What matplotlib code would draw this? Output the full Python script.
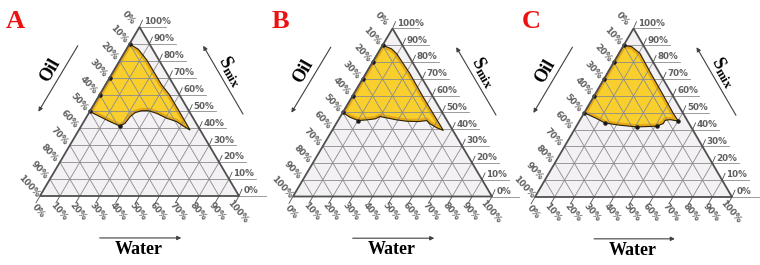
import numpy as np
import matplotlib
matplotlib.use("Agg")
import matplotlib.pyplot as plt
from matplotlib.patches import Polygon

plt.rcParams['mathtext.fontset'] = 'custom'
plt.rcParams['mathtext.rm'] = 'Liberation Serif:bold'
plt.rcParams['mathtext.it'] = 'Liberation Serif:bold'

# ---------------- data ----------------
panel_labels = ["A", "B", "C"]
ticks = list(range(0, 101, 10))
tick_labels = [f"{t}%" for t in ticks]
axis_names = {"oil": "Oil", "smix": "S$_{\\mathrm{mix}}$", "water": "Water"}

# boundary of the shaded (nanoemulsion) region, in % water / % Smix
A_water = [0, 0, 0, 0, 0, 6.8, 13.2, 19.5, 21.2, 21.8, 23.1, 25.9, 29.2, 34.2,
           40.7, 46.7, 51.3, 55.9, 45, 35, 28.3, 13.4, 6]
A_smix = [90, 80, 70, 60, 50, 46.9, 44, 41.4, 43, 46.9, 49.3, 50.5, 50.5, 48.9,
          46, 44, 41.4, 39, 50, 60, 65.7, 80.5, 86.8]
A_dots = [0, 2, 3, 4, 7]

B_water = [0, 0, 0, 0, 0, 5.0, 10.2, 14.2, 18.1, 19.9, 23.7, 29.3, 34.7, 40.7,
           44.6, 47.2, 51.8, 55.9, 45.9, 35.9, 22.3, 9.7, 5.6]
B_smix = [90, 80, 70, 60, 50, 47.2, 45.2, 45.6, 46.2, 47.6, 46.8, 45.6, 44.8,
          44.6, 45.2, 43.3, 40.9, 39.3, 49.2, 59.1, 73, 84.9, 87.9]
B_dots = [0, 1, 2, 3, 4, 6]

C_water = [0, 0, 0, 0, 0, 8.1, 13.6, 21.8, 30.8, 40.8, 43.3, 43.3, 45.6, 50.2,
           45.5, 34.9, 21.2, 10.7, 4.5]
C_smix = [90, 80, 70, 60, 50, 46.5, 43.9, 42.6, 41.6, 42, 43.6, 45.5, 45.9, 45.1,
          49.5, 60.4, 74.3, 85.2, 89.2]
C_dots = [0, 1, 2, 3, 4, 6, 8, 9, 13]

regions = [(A_water, A_smix, A_dots), (B_water, B_smix, B_dots), (C_water, C_smix, C_dots)]

# ---------------- layout ----------------
W_PX, H_PX = 760, 265
# triangle geometry of each panel in figure pixels: left x, base y (from top), base width, height
tri_px = [(40, 196, 199, 169), (293, 196.5, 199, 168), (535, 197, 197, 168.5)]
letter_px = [(15.5, 21), (280, 21.5), (531, 21)]
SQ = np.sqrt(3) / 2
XL = (-0.32, 1.32)
YL = (-0.42, 1.0)


def to_xy(water, smix):
    w = np.asarray(water, float) / 100.0
    s = np.asarray(smix, float) / 100.0
    return w + s / 2, s * SQ


fig = plt.figure(figsize=(W_PX / 100, H_PX / 100), dpi=100)
fig.patch.set_facecolor("white")

grid_c = "#8c8a8c"
edge_c = "#505050"
lab_c = "#606060"

for i, (x0, yb, bw, th) in enumerate(tri_px):
    sx = bw
    sy = th / SQ
    left = x0 + XL[0] * sx
    bottom = (H_PX - yb) + YL[0] * sy
    ax = fig.add_axes([left / W_PX, bottom / H_PX,
                       (XL[1] - XL[0]) * sx / W_PX, (YL[1] - YL[0]) * sy / H_PX])
    ax.set_xlim(*XL)
    ax.set_ylim(*YL)
    ax.axis("off")
    ax.patch.set_alpha(0)

    # background of triangle
    tri = Polygon([(0, 0), (1, 0), (0.5, SQ)], closed=True, facecolor="#f3f1f3",
                  edgecolor="none", zorder=0)
    ax.add_patch(tri)

    # shaded region
    wv, sv, dots = regions[i]
    px, py = to_xy(wv, sv)
    pts = np.column_stack([px, py])
    poly = Polygon(pts, closed=True, facecolor="#f8cf2c", edgecolor="none", zorder=1)
    ax.add_patch(poly)
    inner = Polygon(pts, closed=True, facecolor="none", edgecolor="#e6a816",
                    lw=4, zorder=1.1)
    ax.add_patch(inner)
    inner.set_clip_path(poly)

    # grid lines
    for k in range(1, 10):
        f = k / 10
        # constant Smix (horizontal)
        ax.plot([f / 2, 1 - f / 2], [f * SQ, f * SQ], color=grid_c, lw=0.6, zorder=2)
        # constant Oil (parallel to right edge)
        ax.plot([(1 - f) / 2, 1 - f], [(1 - f) * SQ, 0], color=grid_c, lw=0.6, zorder=2)
        # constant Water (parallel to left edge)
        ax.plot([f, f + (1 - f) / 2], [0, (1 - f) * SQ], color=grid_c, lw=0.6, zorder=2)

    # region outline + dots
    ax.add_patch(Polygon(pts, closed=True, facecolor="none", edgecolor="#2a2205",
                         lw=0.8, zorder=3))
    ax.plot(px[dots], py[dots], "o", color="#1a1a1a", ms=2.2, zorder=4)

    # triangle outline
    ax.add_patch(Polygon([(0, 0), (1, 0), (0.5, SQ)], closed=True, facecolor="none",
                         edgecolor=edge_c, lw=1.3, zorder=5))

    # ticks / labels
    for t, lab in zip(ticks, tick_labels):
        f = t / 100
        # right axis (Smix), horizontal extensions with label on top
        xr = 1 - f / 2
        ax.plot([xr, xr + 0.135], [f * SQ, f * SQ], color=grid_c, lw=0.6, zorder=2)
        ax.plot([xr, xr + 0.015], [f * SQ, f * SQ + 0.035], color=edge_c, lw=0.6)
        ax.text(xr + 0.022, f * SQ + 0.004, lab, ha="left", va="bottom",
                fontsize=6.3, color=lab_c, fontweight="bold")
        # left axis (Oil) : Oil = f at left edge point with Smix = 1-f
        s = 1 - f
        xl, yl = s / 2, s * SQ
        ax.text(xl - 0.055, yl + 0.048, lab, ha="center", va="center",
                rotation=-48, fontsize=6.3, color=lab_c, fontweight="bold")
        # bottom axis (Water)
        ax.plot([f, f - 0.02], [0, -0.035], color=edge_c, lw=0.6)
        ax.text(f - 0.008, -0.078, lab, ha="center", va="center", rotation=-50,
                fontsize=6.3, color=lab_c, fontweight="bold")

    # axis titles and arrows
    ax.text(0.05, 0.645, axis_names["oil"], rotation=60, ha="center", va="center",
            fontsize=13, fontfamily="Liberation Serif", fontweight="bold")
    ax.annotate("", xy=(-0.008, 0.432), xytext=(0.19, 0.77),
                arrowprops=dict(arrowstyle="-|>", color="#404040", lw=0.8,
                                mutation_scale=6, shrinkA=0, shrinkB=0))
    ax.text(0.96, 0.64, axis_names["smix"], rotation=-60, ha="center", va="center",
            fontsize=13, fontfamily="Liberation Serif", fontweight="bold")
    ax.annotate("", xy=(0.82, 0.77), xytext=(1.02, 0.42),
                arrowprops=dict(arrowstyle="-|>", color="#404040", lw=0.8,
                                mutation_scale=6, shrinkA=0, shrinkB=0))
    ax.text(0.495, -0.275, axis_names["water"], ha="center", va="center",
            fontsize=13, fontfamily="Liberation Serif", fontweight="bold")
    ax.annotate("", xy=(0.71, -0.215), xytext=(0.30, -0.215),
                arrowprops=dict(arrowstyle="-|>", color="#404040", lw=0.8,
                                mutation_scale=6, shrinkA=0, shrinkB=0))

    lx, ly = letter_px[i]
    fig.text(lx / W_PX, 1 - ly / H_PX, panel_labels[i], ha="center", va="center",
             fontsize=19, color="#ee1111", fontfamily="Liberation Serif",
             fontweight="bold")

fig.savefig("out.png", dpi=100, facecolor="white")
